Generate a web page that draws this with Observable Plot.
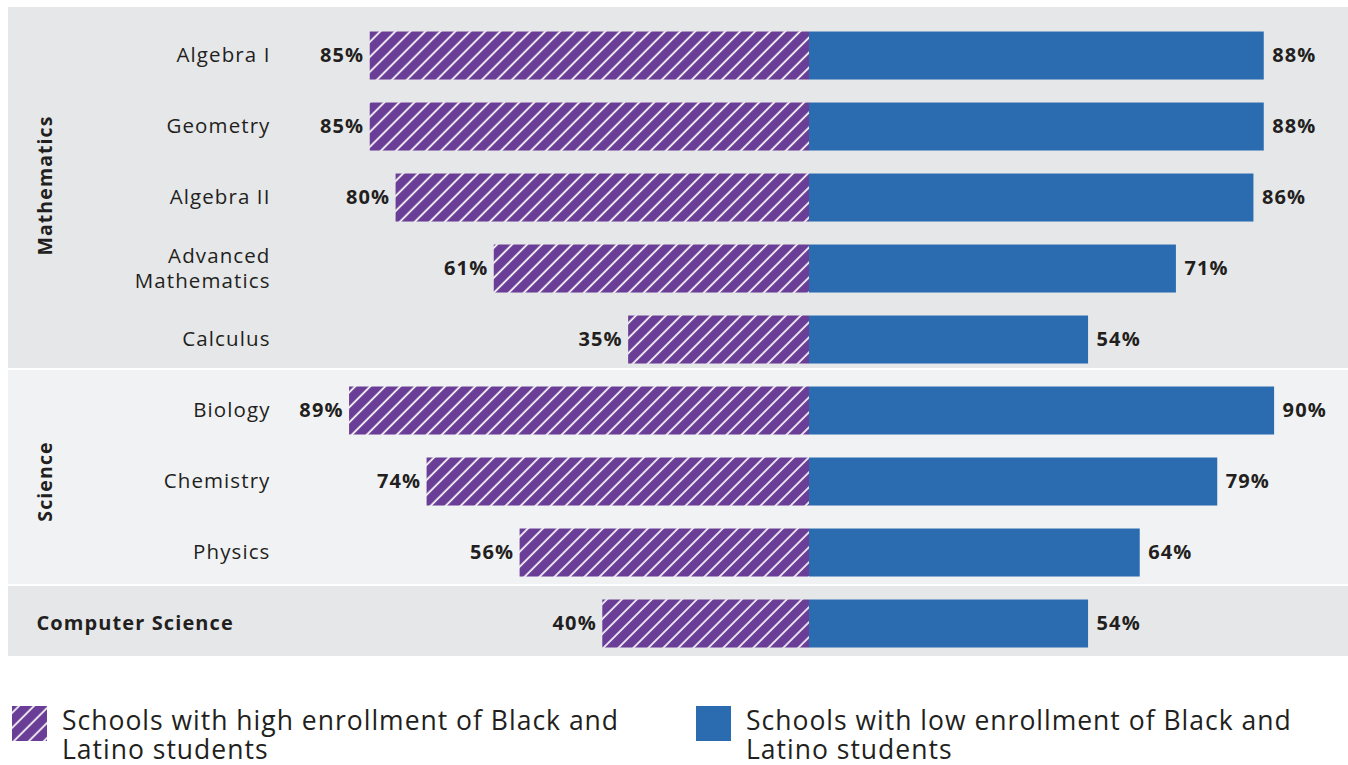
<!DOCTYPE html>
<html>
<head>
<meta charset="utf-8">
<script src="https://cdn.jsdelivr.net/npm/d3@7"></script>
<script src="https://cdn.jsdelivr.net/npm/@observablehq/plot@0.6"></script>
<style>
  html, body { margin: 0; padding: 0; background: #fff; }
  body { width: 1348px; height: 765px; overflow: hidden; font-family: "Open Sans", sans-serif; color: #231f20; }
  #chart svg { display: block; letter-spacing: 1.1px; }
  #legend { position: relative; height: 105px; margin-top: 44px; }
  .item { position: absolute; top: 0; display: flex; align-items: flex-start; }
  .item svg { display: block; flex: none; margin-top: 2px; }
  .item span { margin-left: 15px; font-size: 26.5px; line-height: 29px; letter-spacing: 1px; margin-top: 2px; }
</style>
</head>
<body>
<div id="chart"></div>
<div id="legend"></div>
<script>
// ---- data ----
const subjects = ["Algebra I", "Geometry", "Algebra II", "Advanced\nMathematics", "Calculus", "Biology", "Chemistry", "Physics", "Computer Science"];
const groups = ["Mathematics", "Mathematics", "Mathematics", "Mathematics", "Mathematics", "Science", "Science", "Science", "Computer Science"];
const highEnrollment = [85, 85, 80, 61, 35, 89, 74, 56, 40];
const lowEnrollment = [88, 88, 86, 71, 54, 90, 79, 64, 54];
const seriesLabels = ["Schools with high enrollment of Black and\nLatino students", "Schools with low enrollment of Black and\nLatino students"];

const purple = "#6a3d96", blue = "#2b6cb0", ink = "#231f20";
const xMin = -155, xMax = 104.3;

const rows = subjects.map((s, i) => ({i, subject: s, group: groups[i], high: highEnrollment[i], low: lowEnrollment[i]}));
const groupNames = [...new Set(groups)];
const spans = groupNames.map(g => {
  const idx = rows.filter(r => r.group === g).map(r => r.i);
  return {group: g, y1: d3.min(idx) - 0.5, y2: d3.max(idx) + 0.5, mid: d3.mean(idx)};
});
const span = g => spans.filter(s => s.group === g);

const font = "'Open Sans', sans-serif";

const plot = Plot.plot({
  width: 1348, height: 660,
  marginLeft: 8, marginRight: 0, marginTop: 0, marginBottom: 0,
  x: {domain: [xMin, xMax], axis: null},
  y: {domain: [-0.775, 8.521], reverse: true, axis: null},
  style: {fontFamily: font, color: ink, background: "#fff", overflow: "visible"},
  marks: [
    Plot.rect(span("Mathematics"), {x1: () => xMin, x2: () => xMax, y1: "y1", y2: "y2", fill: "#e6e7e9", insetTop: -12.5, insetBottom: 6.5}),
    Plot.rect(span("Science"), {x1: () => xMin, x2: () => xMax, y1: "y1", y2: "y2", fill: "#f1f2f4", insetTop: -4.5, insetBottom: 3.5}),
    Plot.rect(span("Computer Science"), {x1: () => xMin, x2: () => xMax, y1: "y1", y2: "y2", fill: "#e6e7e9", insetTop: -1.5, insetBottom: 2.5}),
    Plot.rect(rows, {x1: () => 0, x2: d => -d.high, y1: d => d.i - 0.5, y2: d => d.i + 0.5, insetTop: 12, insetBottom: 11, fill: "url(#hatch)"}),
    Plot.rect(rows, {x1: () => 0, x2: d => d.low, y1: d => d.i - 0.5, y2: d => d.i + 0.5, insetTop: 12, insetBottom: 11, fill: blue}),
    Plot.text(rows, {x: d => -d.high, y: "i", text: d => d.high + "%", textAnchor: "end", dx: -6, fontWeight: "bold", fontSize: 20, fill: ink}),
    Plot.text(rows, {x: d => d.low, y: "i", text: d => d.low + "%", textAnchor: "start", dx: 8, fontWeight: "bold", fontSize: 20, fill: ink}),
    Plot.text(rows.filter(r => r.group !== "Computer Science"), {frameAnchor: "left", y: "i", text: "subject", textAnchor: "end", dx: 262, dy: -1, fontSize: 20.5, lineHeight: 1.2, fill: ink}),
    Plot.text(rows.filter(r => r.group === "Computer Science"), {frameAnchor: "left", y: "i", text: "subject", textAnchor: "start", dx: 28, fontSize: 20, fontWeight: "bold", fill: ink}),
    Plot.text(span("Mathematics"), {frameAnchor: "left", y: "mid", text: "group", rotate: -90, textAnchor: "middle", dx: 37, dy: -12, fontSize: 19.5, fontWeight: "bold", fill: ink}),
    Plot.text(span("Science"), {frameAnchor: "left", y: "mid", text: "group", rotate: -90, textAnchor: "middle", dx: 37, fontSize: 19.5, fontWeight: "bold", fill: ink})
  ]
});

function hatchPattern(id) {
  return `<defs><pattern id="${id}" patternUnits="userSpaceOnUse" width="10.6" height="10.6" patternTransform="rotate(45)">
    <rect width="10.6" height="10.6" fill="${purple}"></rect>
    <line x1="5" y1="-1" x2="5" y2="12" stroke="#fff" stroke-width="1.7"></line>
  </pattern></defs>`;
}
plot.insertAdjacentHTML("afterbegin", hatchPattern("hatch"));
document.getElementById("chart").append(plot);

const legend = document.getElementById("legend");
const swatches = [
  `<svg width="35" height="35">${hatchPattern("hatch2")}<rect width="35" height="35" fill="url(#hatch2)"></rect></svg>`,
  `<svg width="35" height="35"><rect width="35" height="35" fill="${blue}"></rect></svg>`
];
const lefts = [12, 696];
legend.innerHTML = seriesLabels.map((label, k) => `
  <div class="item" style="left:${lefts[k]}px">
    ${swatches[k]}
    <span>${label.replace("\n", "<br>")}</span>
  </div>`).join("");
</script>
</body>
</html>
